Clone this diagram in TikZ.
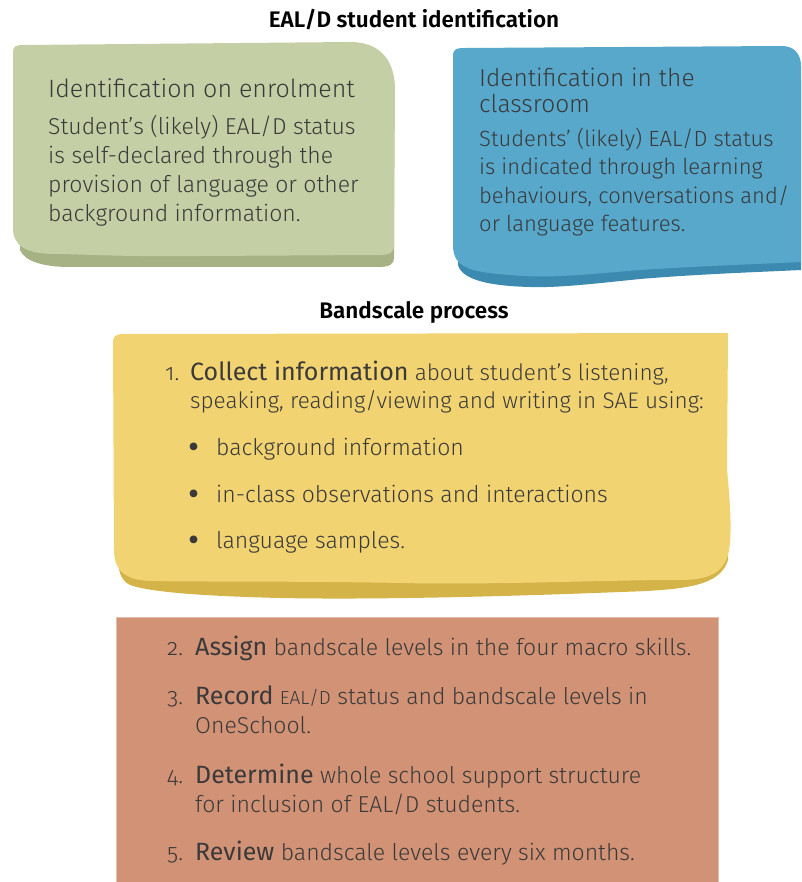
\documentclass[tikz,border=0pt]{standalone}
\usepackage{fontspec}
\setmainfont[Numbers=OldStyle, UprightFont={* Light}, BoldFont={* SemiBold}]{Fira Sans}
\newfontfamily\keyfont[Numbers=OldStyle]{Fira Sans}
\usetikzlibrary{positioning}

\definecolor{leafgreen}{RGB}{197, 207, 165}
\definecolor{leafshade}{RGB}{166, 177, 132}
\definecolor{skyblue}{RGB}{87, 168, 203}
\definecolor{skyshade}{RGB}{60, 138, 176}
\definecolor{sunyellow}{RGB}{242, 211, 113}
\definecolor{sunshade}{RGB}{212, 180, 72}
\definecolor{clayred}{RGB}{210, 146, 117}
\definecolor{inkgrey}{RGB}{58, 58, 58}

% bigger word that opens a step
\newcommand{\kw}[1]{{\keyfont\fontsize{25}{29}\selectfont #1}}

\begin{document}
\begin{tikzpicture}[x=1pt, y=-1pt,
  heading/.style={font=\fontsize{22.5}{26}\selectfont\bfseries, text=black, inner sep=0pt, anchor=base},
  cardhead/.style={font=\fontsize{25}{26}\selectfont, text=inkgrey, inner sep=0pt, anchor=base west, align=left},
  cardtext/.style={font=\fontsize{23}{29}\selectfont, text=inkgrey, inner sep=0pt, anchor=base west, align=left},
  steptext/.style={font=\fontsize{23}{29}\selectfont, text=inkgrey, inner sep=0pt, anchor=base west, align=left},
  dotmark/.style={font=\keyfont\fontsize{34}{29}\selectfont, text=inkgrey, inner sep=0pt, anchor=base west}]
  \useasboundingbox (0,0) rectangle (801,882);

  % Green card (enrolment)
  \fill[leafshade] (20,240) -- (20,60) -- (380,60) -- (394,100) -- (394,258) .. controls (394,264) and (390,267) .. (378,267) -- (70,267) .. controls (45,267) and (25,262) .. (20,250) -- cycle;
  \fill[leafgreen] (13,52) .. controls (13,46) and (16,45) .. (24,45) -- (350,42) .. controls (380,42) and (395,60) .. (395,90) -- (394,245) .. controls (394,252) and (390,255) .. (380,255) -- (200,256) .. controls (120,257) and (80,254) .. (55,254) .. controls (25,254) and (13,245) .. (13,228) -- cycle;

  % Blue card (classroom)
  \fill[skyshade] (458,240) -- (458,80) -- (801,80) -- (801,270) .. controls (760,272) and (700,274) .. (640,279) .. controls (600,283) and (560,288) .. (530,287) .. controls (490,286) and (462,280) .. (458,265) -- cycle;
  \fill[skyblue] (453,56) .. controls (453,49) and (456,48) .. (466,48) -- (782,46) .. controls (794,46) and (801,54) .. (801,66) -- (801,262) .. controls (760,264) and (700,266) .. (640,270) .. controls (590,274) and (550,279) .. (510,275) .. controls (470,272) and (453,268) .. (453,245) -- cycle;

  % Yellow card (step 1)
  \fill[sunshade] (118,500) -- (118,400) -- (725,400) -- (728,560) .. controls (720,585) and (690,590) .. (620,592) .. controls (520,596) and (380,600) .. (280,598) .. controls (200,596) and (150,592) .. (130,585) .. controls (120,580) and (118,570) .. (118,555) -- cycle;
  \fill[sunyellow] (113,342) .. controls (113,336) and (116,334) .. (124,334) -- (728,333) -- (727,470) .. controls (731,510) and (732,540) .. (728,555) .. controls (722,575) and (705,580) .. (680,580) .. controls (600,580) and (500,585) .. (400,583) .. controls (300,581) and (200,582) .. (150,581) .. controls (125,580) and (114,570) .. (114,550) -- cycle;

  % Clay panel (steps 2-5)
  \fill[clayred, draw=clayred!60!white, line width=1pt] (116,617) rectangle (718,884);

  % Headings
  \node[heading] (idtitle) at (414,28) {EAL/D student identification};
  \node[heading] (bandtitle) at (414,318) {Bandscale process};

  % Card texts (multi-line nodes sit on their last line)
  \node[cardhead] (enrolhead) at (48,98) {Identification on enrolment};
  \node[cardtext] (enroltext) at (48,222) {Student’s (likely) EAL/D status\\is self-declared through the\\provision of language or other\\background information.};
  \node[cardhead, font=\fontsize{24.5}{26}\selectfont] (classhead) at (479,113) {Identification in the\\classroom};
  \node[cardtext, font=\fontsize{22}{28.5}\selectfont] (classtext) at (479,232) {Students’ (likely) EAL/D status\\is indicated through learning\\behaviours, conversations and/\\or language features.};

  % Step 1 with its sources
  \node[steptext] (num1) at (165,380) {1.};
  \node[steptext, font=\fontsize{22.5}{28}\selectfont] (collect) at (190,408) {\kw{Collect information} about student’s listening,\\speaking, reading/viewing and writing in SAE using:};
  \node[dotmark] (dot1) at (188,458) {•};
  \node[steptext] (src1) at (216,455) {background information};
  \node[dotmark] (dot2) at (188,505) {•};
  \node[steptext] (src2) at (216,502) {in-class observations and interactions};
  \node[dotmark] (dot3) at (188,551) {•};
  \node[steptext] (src3) at (216,548) {language samples.};

  % Steps 2-5
  \node[steptext] (num2) at (167,655) {2.};
  \node[steptext] (assign) at (195,655) {\kw{Assign} bandscale levels in the four macro skills.};
  \node[steptext] (num3) at (167,704) {3.};
  \node[steptext] (record) at (195,733) {\kw{Record} {\fontsize{19}{29}\selectfont EAL/D} status and bandscale levels in\\OneSchool.};
  \node[steptext] (num4) at (167,783) {4.};
  \node[steptext] (determine) at (195,812) {\kw{Determine} whole school support structure\\for inclusion of EAL/D students.};
  \node[steptext] (num5) at (167,860) {5.};
  \node[steptext] (review) at (195,860) {\kw{Review} bandscale levels every six months.};
\end{tikzpicture}
\end{document}
